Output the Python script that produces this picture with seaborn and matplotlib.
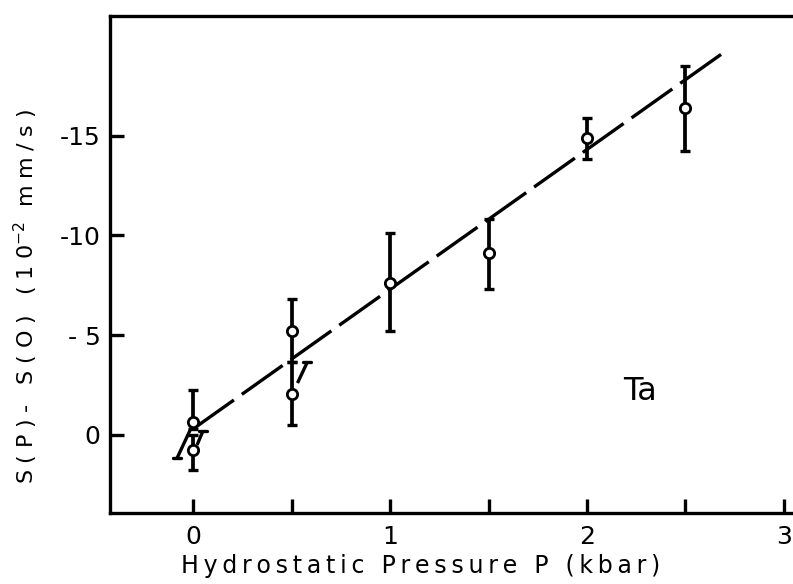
import numpy as np
import pandas as pd
import matplotlib
matplotlib.use("Agg")
import matplotlib.pyplot as plt
import seaborn as sns

# measured points, x in kbar, shift in 1e-2 mm/s
pressure = [0.0, 0.0, 0.5, 0.5, 1.0, 1.5, 2.0, 2.5]
shift = [-0.65, 0.75, -5.2, -2.05, -7.6, -9.1, -14.9, -16.4]
err_low = [-2.25, 0.0, -6.8, -3.65, -10.1, -10.8, -15.9, -18.5]
err_high = [-0.3, 1.75, -3.65, -0.5, -5.2, -7.3, -13.8, -14.2]

# fitted line
fit_x = [0.0, 2.7]
fit_y = [-0.3, -19.2]

# small slanted strokes drawn by hand next to the low-pressure points
stroke_x = [[-0.081, -0.01], [0.05, 0.02], [0.58, 0.53]]
stroke_y = [[1.15, -0.35], [-0.2, 0.5], [-3.65, -2.6]]

x_tick_values = [0, 0.5, 1, 1.5, 2, 2.5, 3]
x_tick_labels = ["0", "", "1", "", "2", "", "3"]
y_tick_values = [0, -5, -10, -15]
y_tick_labels = ["0", "- 5", "-10", "-15"]


def spaced(text, sep="\u200a"):
    # old stencil lettering has wide tracking
    return sep.join(text)


df = pd.DataFrame({"P": pressure, "S": shift})

sns.set_theme(style="white")
plt.rcParams["font.family"] = ["DejaVu Sans"]
plt.rcParams["lines.scale_dashes"] = False
plt.rcParams["text.color"] = "black"
plt.rcParams["axes.labelcolor"] = "black"

fig = plt.figure(figsize=(7.93, 5.84), dpi=100)
ax = fig.add_axes([0.139, 0.122, 0.861, 0.851])

lw = 2.4

sns.lineplot(x=fit_x, y=fit_y, ax=ax, color="black", lw=lw,
             dashes=False, linestyle=(0, (36, 7)))

for xs, ys in zip(stroke_x, stroke_y):
    ax.plot(xs, ys, color="black", lw=lw, solid_capstyle="butt")
    ax.plot([xs[0] - 0.02, xs[0] + 0.02], [ys[0], ys[0]], color="black", lw=lw)

yerr = np.array([[s - lo for s, lo in zip(shift, err_low)],
                 [hi - s for s, hi in zip(shift, err_high)]])
ax.errorbar(pressure, shift, yerr=yerr, fmt="none", ecolor="black",
            elinewidth=lw + 0.3, capsize=3.3, capthick=lw)
sns.scatterplot(data=df, x="P", y="S", ax=ax, marker="o", s=55,
                facecolor="white", edgecolor="black", linewidth=2.0, zorder=5)

ax.text(2.27, -2.16, "Ta", fontsize=23, ha="center", va="center")

ax.set_xlim(-0.421, 3.046)
ax.set_ylim(3.9, -21.0)
ax.set_xticks(x_tick_values)
ax.set_xticklabels(x_tick_labels)
ax.set_yticks(y_tick_values)
ax.set_yticklabels(y_tick_labels)
ax.tick_params(direction="in", length=10, width=lw, labelsize=18,
               colors="black", left=True, bottom=True)
ax.tick_params(axis="x", pad=9)
ax.tick_params(axis="y", pad=7)
ax.set_xlabel(spaced("Hydrostatic Pressure P (kbar)", "\u200a\u200a"), fontsize=17)
ax.set_ylabel(spaced("S(P)- S(O) (10", "\u2009\u200a") + "$^{-2}$"
              + spaced(" mm/s)", "\u2009\u200a"), fontsize=16)
ax.xaxis.set_label_coords(0.455, -0.084)
ax.yaxis.set_label_coords(-0.103, 0.435)

ax.spines["right"].set_visible(False)
for side in ["left", "bottom", "top"]:
    ax.spines[side].set_linewidth(lw)
    ax.spines[side].set_color("black")

fig.savefig("out.png", dpi=100)
